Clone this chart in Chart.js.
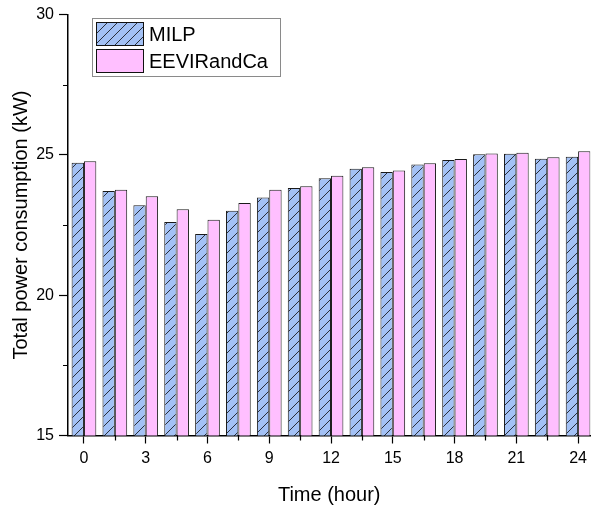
<!DOCTYPE html>
<html>
<head>
<meta charset="utf-8">
<script src="https://cdn.jsdelivr.net/npm/chart.js@4"></script>
<style>
  body { margin: 0; background: #fff; overflow: hidden; }
</style>
</head>
<body>
<canvas id="power" width="592" height="507"></canvas>
<script>
// hours (one pair of bars every 1.5 h)
const hours = [0, 1.5, 3, 4.5, 6, 7.5, 9, 10.5, 12, 13.5, 15, 16.5, 18, 19.5, 21, 22.5, 24];
const milp = [24.72, 23.71, 23.21, 22.61, 22.18, 23.01, 23.48, 23.82, 24.17, 24.51, 24.39, 24.66, 24.82, 25.02, 25.04, 24.86, 24.93];
const eevi = [24.77, 23.76, 23.53, 23.06, 22.69, 23.29, 23.76, 23.88, 24.26, 24.56, 24.44, 24.70, 24.85, 25.05, 25.08, 24.92, 25.13];
const xTicks = [0, 3, 6, 9, 12, 15, 18, 21, 24];
const xMinor = [1.5, 4.5, 7.5, 10.5, 13.5, 16.5, 19.5, 22.5];
const yMinor = [17.5, 22.5, 27.5];

const FONT = "'Liberation Sans', Arial, sans-serif";

function hatch(bg, line) {
  const c = document.createElement("canvas");
  c.width = 10;
  c.height = 10;
  const g = c.getContext("2d");
  g.fillStyle = bg;
  g.fillRect(0, 0, 10, 10);
  g.strokeStyle = line;
  g.lineWidth = 1;
  g.beginPath();
  g.moveTo(-1, 11);
  g.lineTo(11, -1);
  g.stroke();
  return g.createPattern(c, "repeat");
}

const blueHatch = hatch("#a3c1f5", "#2a2f3a");
const pink = "#ffbfff";

// minor ticks, drawn off the library's scales
const minorTicks = {
  id: "minorTicks",
  afterDraw(chart) {
    const { ctx, scales } = chart;
    const x = scales.x, y = scales.y;
    ctx.save();
    ctx.strokeStyle = "#000";
    ctx.lineWidth = 1.2;
    ctx.beginPath();
    xMinor.forEach((v) => {
      const px = Math.round(x.getPixelForValue(v)) + 0.5;
      ctx.moveTo(px, y.bottom);
      ctx.lineTo(px, y.bottom + 5);
    });
    yMinor.forEach((v) => {
      const py = Math.round(y.getPixelForValue(v)) + 0.5;
      ctx.moveTo(x.left, py);
      ctx.lineTo(x.left - 5, py);
    });
    ctx.stroke();
    ctx.restore();
  },
};

// legend inside the plot, top left
const boxLegend = {
  id: "boxLegend",
  afterDraw(chart) {
    const ctx = chart.ctx;
    const bx = 92, by = 18, bw = 188, bh = 58;
    ctx.save();
    ctx.fillStyle = "#fff";
    ctx.fillRect(bx, by, bw, bh);
    ctx.strokeStyle = "#8a8a8a";
    ctx.lineWidth = 1;
    ctx.strokeRect(bx + 0.5, by + 0.5, bw, bh);
    chart.data.datasets.forEach((ds, i) => {
      const sy = by + 4 + i * 27;
      ctx.fillStyle = ds.backgroundColor;
      ctx.fillRect(96, sy, 47, 23);
      ctx.strokeStyle = "#111";
      ctx.lineWidth = 1;
      ctx.strokeRect(96.5, sy + 0.5, 47, 23);
      ctx.fillStyle = "#000";
      ctx.font = "20px " + FONT;
      ctx.textBaseline = "middle";
      ctx.fillText(ds.label, 149, sy + 13);
    });
    ctx.restore();
  },
};

new Chart(document.getElementById("power").getContext("2d"), {
  type: "bar",
  data: {
    datasets: [
      {
        label: "MILP",
        data: hours.map((h, i) => ({ x: h, y: milp[i] })),
        backgroundColor: blueHatch,
        borderColor: "#1a1a1a",
        borderWidth: 1,
      },
      {
        label: "EEVIRandCa",
        data: hours.map((h, i) => ({ x: h, y: eevi[i] })),
        backgroundColor: pink,
        borderColor: "#1a1a1a",
        borderWidth: 1,
      },
    ],
  },
  options: {
    responsive: false,
    animation: false,
    barPercentage: 1,
    categoryPercentage: 0.8,
    layout: { padding: { top: 12, left: 0, right: 0, bottom: 0 } },
    plugins: {
      legend: { display: false },
      tooltip: { enabled: false },
    },
    scales: {
      x: {
        type: "linear",
        offset: false,
        min: -0.775,
        max: 24.6,
        afterFit: (s) => { s.height = 71.5; },
        afterBuildTicks: (s) => { s.ticks = xTicks.map((v) => ({ value: v })); },
        ticks: {
          stepSize: 3,
          includeBounds: false,
          padding: 5,
          color: "#000",
          font: { family: FONT, size: 16 },
        },
        grid: {
          offset: false,
          drawOnChartArea: false,
          drawTicks: true,
          tickLength: 8,
          tickColor: "#000",
          tickWidth: 1.2,
        },
        border: { color: "#000", width: 1.5 },
        title: {
          display: true,
          text: "Time (hour)",
          color: "#000",
          font: { family: FONT, size: 20 },
          padding: { top: 3, bottom: 0 },
        },
      },
      y: {
        min: 15,
        max: 30,
        afterFit: (s) => { s.width = 68; },
        ticks: {
          stepSize: 5,
          padding: 5,
          color: "#000",
          font: { family: FONT, size: 16 },
        },
        grid: {
          drawOnChartArea: false,
          drawTicks: true,
          tickLength: 9,
          tickColor: "#000",
          tickWidth: 1.2,
        },
        border: { color: "#000", width: 1.5 },
        title: {
          display: true,
          text: "Total power consumption (kW)",
          color: "#000",
          font: { family: FONT, size: 20 },
          padding: { top: 9, bottom: 0 },
        },
      },
    },
  },
  plugins: [minorTicks, boxLegend],
});
</script>
</body>
</html>
